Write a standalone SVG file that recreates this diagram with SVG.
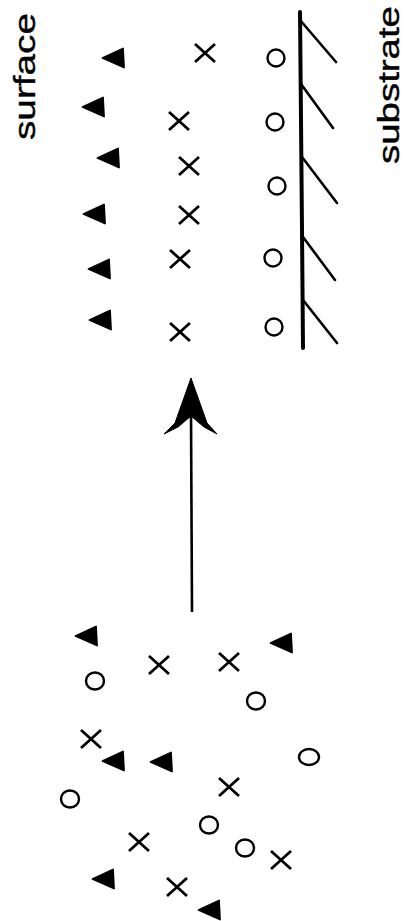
<svg xmlns="http://www.w3.org/2000/svg" xmlns:xlink="http://www.w3.org/1999/xlink" width="406" height="921" viewBox="0 0 406 921">
<style>
.lbl{font-family:"Liberation Sans",Arial,sans-serif;fill:#000;stroke:#000;stroke-width:0.4}
.tri{fill:#000;stroke:#000;stroke-width:1.8;stroke-linejoin:round}
.crs{fill:none;stroke:#000;stroke-width:2.8;stroke-linecap:butt}
.cir{fill:none;stroke:#000;stroke-width:2.4}
.sub{fill:none;stroke:#000;stroke-linecap:round}
</style>
<defs>
<path id="t" class="tri" d="M-10.5,0 L10,-9.5 L11,9.5 Z"/>
<path id="x" class="crs" d="M-10,-9 L10,9 M-10,9 L10,-9"/>
<ellipse id="o" class="cir" cx="0" cy="0" rx="8.5" ry="8.5"/>
</defs>
<rect width="406" height="921" fill="#fff"/>
<g id="surface-label">
<text class="lbl" font-size="30" transform="translate(34.5,140) rotate(-90)" textLength="127" lengthAdjust="spacingAndGlyphs">surface</text>
</g>
<g id="substrate-label">
<text class="lbl" font-size="29" transform="translate(399,164) rotate(-90)" textLength="158" lengthAdjust="spacingAndGlyphs">substrate</text>
</g>
<g id="substrate">
<path class="sub" stroke-width="4" d="M300,12 L301,120 L302,230 L303,348"/>
<path class="sub" stroke-width="2.6" d="M300,20 L336,62 M301,84 L333,128 M302,157 L337,203 M303,237 L335,280 M303,300 L337,343"/>
</g>
<g id="ordered-film">
<use xlink:href="#t" x="113" y="58"/>
<use xlink:href="#t" x="93" y="107"/>
<use xlink:href="#t" x="108" y="158"/>
<use xlink:href="#t" x="94" y="214"/>
<use xlink:href="#t" x="99" y="269"/>
<use xlink:href="#t" x="100" y="320"/>
<use xlink:href="#x" x="205" y="53"/>
<use xlink:href="#x" x="179" y="121"/>
<use xlink:href="#x" x="189" y="166"/>
<use xlink:href="#x" x="189" y="215"/>
<use xlink:href="#x" x="180" y="259"/>
<use xlink:href="#x" x="180" y="332"/>
<use xlink:href="#o" x="276" y="58"/>
<use xlink:href="#o" x="275" y="122"/>
<use xlink:href="#o" x="277" y="186"/>
<use xlink:href="#o" x="273" y="258"/>
<use xlink:href="#o" x="274" y="327"/>
</g>
<g id="disordered-phase">
<use xlink:href="#t" x="86" y="636"/>
<use xlink:href="#t" x="281" y="643"/>
<use xlink:href="#t" x="113" y="761"/>
<use xlink:href="#t" x="161" y="762"/>
<use xlink:href="#t" x="103" y="879"/>
<use xlink:href="#t" x="209" y="910"/>
<use xlink:href="#x" x="159" y="665"/>
<use xlink:href="#x" x="229" y="662"/>
<use xlink:href="#x" x="91" y="739"/>
<use xlink:href="#x" x="229" y="787"/>
<use xlink:href="#x" x="139" y="842"/>
<use xlink:href="#x" x="281" y="860"/>
<use xlink:href="#x" x="177" y="887"/>
<ellipse class="cir" cx="95" cy="681" rx="9" ry="8.5"/>
<ellipse class="cir" cx="256" cy="701" rx="9" ry="8.5"/>
<ellipse class="cir" cx="309" cy="757" rx="10" ry="8"/>
<ellipse class="cir" cx="70" cy="799" rx="9" ry="8.5"/>
<ellipse class="cir" cx="209" cy="825" rx="9" ry="8.5"/>
<ellipse class="cir" cx="245" cy="848" rx="9" ry="8.5"/>
</g>
<g id="connectors">
<path fill="none" stroke="#000" stroke-width="2.6" d="M191,412 L192,612"/>
<path fill="#000" stroke="#000" stroke-width="1" stroke-linejoin="miter" d="M191,378 L207,423 L217,434 L204,427 L191,416 L178,427 L164,434 L175,423 Z"/>
</g>
</svg>
